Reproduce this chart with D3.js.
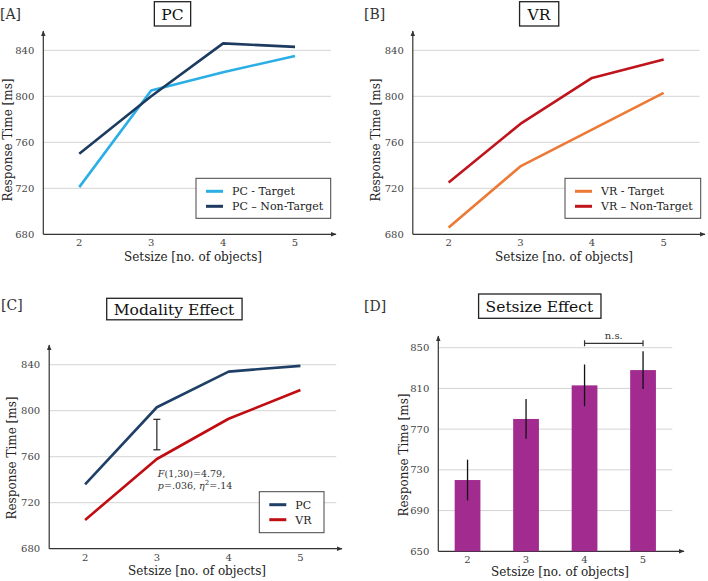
<!DOCTYPE html>
<html>
<head>
<meta charset="utf-8">
<script src="https://cdn.jsdelivr.net/npm/d3@7"></script>
<style>
  body { margin: 0; background: #fff; }
  svg { display: block; font-family: "DejaVu Serif", serif; }
</style>
</head>
<body>
<svg id="chart" width="708" height="581"></svg>
<script>
// --- data ---
const setsizes = [2, 3, 4, 5];
const rtTicks = [680, 720, 760, 800, 840];
const barTicks = [650, 690, 730, 770, 810, 850];

const pcTarget = [721, 805, 821, 835];
const pcNonTarget = [750, 800, 846, 843];
const vrTarget = [686, 739, 771, 803];
const vrNonTarget = [725, 776, 816, 832];
const pcMean = [736, 803, 834, 839];
const vrMean = [705, 758, 793, 818];

const setsizeMean = [720, 780, 813, 828];
const setsizeErr = [20, 19.5, 20.5, 18.5];

const modalityInterval = [766, 792.5]; // bracket at setsize 3
const nsPair = [4, 5];

const svg = d3.select('#chart');

// arrow marker for axes
svg.append('defs').append('marker')
  .attr('id', 'arrow')
  .attr('viewBox', '0 0 10 10')
  .attr('refX', 9).attr('refY', 5)
  .attr('markerWidth', 5).attr('markerHeight', 5)
  .attr('orient', 'auto')
  .append('path')
  .attr('d', 'M0,1 L10,5 L0,9 z')
  .style('fill', '#333');

function axesFrame(g, p) {
  // p: left, bottom, top, right, yScale, ticks, gridRight
  g.selectAll('.grid').data(p.ticks.slice(1)).join('line')
    .attr('class', 'grid')
    .attr('x1', p.left).attr('x2', p.gridRight)
    .attr('y1', d => p.y(d)).attr('y2', d => p.y(d))
    .style('stroke', '#d4d4d4').style('stroke-width', 1);

  g.selectAll('.ytick').data(p.ticks).join('text')
    .attr('class', 'ytick')
    .attr('x', p.left - 9).attr('y', d => p.y(d))
    .attr('dy', '0.35em')
    .attr('text-anchor', 'end')
    .style('font-size', '10px').style('fill', '#444')
    .text(d => d);

  g.append('line')
    .attr('x1', p.left).attr('x2', p.right)
    .attr('y1', p.bottom).attr('y2', p.bottom)
    .style('stroke', '#333').style('stroke-width', 1.2)
    .attr('marker-end', 'url(#arrow)');
  g.append('line')
    .attr('x1', p.left).attr('x2', p.left)
    .attr('y1', p.bottom).attr('y2', p.top)
    .style('stroke', '#333').style('stroke-width', 1.2)
    .attr('marker-end', 'url(#arrow)');
}

function labels(g, p) {
  g.append('text')
    .attr('x', p.tagX).attr('y', p.tagY)
    .style('font-size', '14px').style('fill', '#333')
    .text(p.tag);

  const t = g.append('text')
    .attr('x', p.titleX).attr('y', p.titleY)
    .attr('text-anchor', 'middle')
    .style('font-size', '15.5px').style('fill', '#111')
    .text(p.title);
  const bb = t.node().getBBox();
  g.insert('rect', 'text')
    .attr('x', bb.x - 7).attr('y', p.boxTop)
    .attr('width', bb.width + 14).attr('height', p.boxH)
    .style('fill', '#fff').style('stroke', '#222').style('stroke-width', 1.3);

  g.append('text')
    .attr('transform', `translate(${p.yLabX},${p.yLabY}) rotate(-90)`)
    .attr('text-anchor', 'middle').attr('dy', '0.35em')
    .style('font-size', '12px').style('fill', '#222')
    .text('Response Time [ms]');

  g.append('text')
    .attr('x', p.xLabX).attr('y', p.xLabY)
    .attr('text-anchor', 'middle')
    .style('font-size', '12px').style('fill', '#222')
    .text('Setsize [no. of objects]');
}

function legend(g, x0, y0, w, h, items) {
  g.append('rect')
    .attr('x', x0).attr('y', y0).attr('width', w).attr('height', h)
    .style('fill', '#fff').style('stroke', '#444').style('stroke-width', 1);
  items.forEach((it, i) => {
    const yy = y0 + 13 + i * 15;
    g.append('line')
      .attr('x1', x0 + 10).attr('x2', x0 + 27)
      .attr('y1', yy).attr('y2', yy)
      .style('stroke', it.color).style('stroke-width', 3);
    g.append('text')
      .attr('x', x0 + 36).attr('y', yy).attr('dy', '0.35em')
      .style('font-size', '11px').style('fill', '#222')
      .text(it.label);
  });
}

function linePanel(p) {
  const g = svg.append('g');
  const x = d3.scaleLinear().domain([1.5, 5.5]).range([p.left, p.gridRight]);
  const y = d3.scaleLinear().domain([680, 840]).range([p.bottom, p.y840]);
  axesFrame(g, { ...p, y, ticks: rtTicks });

  g.selectAll('.xtick').data(setsizes).join('text')
    .attr('x', d => x(d)).attr('y', p.bottom + 12)
    .attr('text-anchor', 'middle')
    .style('font-size', '10px').style('fill', '#444')
    .text(d => d);

  const line = d3.line().x((d, i) => x(setsizes[i])).y(d => y(d));
  p.series.forEach(s => {
    g.append('path')
      .datum(s.values)
      .attr('d', line)
      .style('fill', 'none').style('stroke', s.color)
      .style('stroke-width', 2.6).style('stroke-linejoin', 'round');
  });
  labels(g, p);
  legend(g, p.legX, p.legY, p.legW, p.legH, p.series);
  return { g, x, y };
}

const cLightBlue = '#2aaee6', cNavy = '#1d3a5f';
const cOrange = '#ec7a36', cRed = '#c0141c';
const cPC = '#1f3f66', cVR = '#c00d12';

// [A]
linePanel({
  left: 43.3, gridRight: 331, right: 336, bottom: 234.3, y840: 50.3, top: 31,
  series: [
    { label: 'PC - Target', color: cLightBlue, values: pcTarget },
    { label: 'PC \u2013 Non-Target', color: cNavy, values: pcNonTarget }
  ],
  tag: '[A]', tagX: 0, tagY: 19,
  title: 'PC', titleX: 172.5, titleY: 20, boxTop: 1.7, boxH: 24.3,
  yLabX: 8, yLabY: 140, xLabX: 193, xLabY: 261,
  legX: 196, legY: 178.3, legW: 134.7, legH: 40
});

// [B]
linePanel({
  left: 412.8, gridRight: 699.5, right: 705, bottom: 234.3, y840: 50.3, top: 31,
  series: [
    { label: 'VR - Target', color: cOrange, values: vrTarget },
    { label: 'VR \u2013 Non-Target', color: cRed, values: vrNonTarget }
  ],
  tag: '[B]', tagX: 364, tagY: 19,
  title: 'VR', titleX: 539, titleY: 20, boxTop: 1.7, boxH: 24.3,
  yLabX: 376, yLabY: 140, xLabX: 564, xLabY: 261,
  legX: 565, legY: 178.3, legW: 135.7, legH: 40
});

// [C]
const pc = linePanel({
  left: 49.2, gridRight: 336.3, right: 342, bottom: 548.7, y840: 364.7, top: 345,
  series: [
    { label: 'PC', color: cPC, values: pcMean },
    { label: 'VR', color: cVR, values: vrMean }
  ],
  tag: '[C]', tagX: 1, tagY: 310,
  title: 'Modality Effect', titleX: 174, titleY: 314.5, boxTop: 298.3, boxH: 21.5,
  yLabX: 12, yLabY: 458, xLabX: 197, xLabY: 575,
  legX: 259.3, legY: 491.7, legW: 64.7, legH: 41
});

// modality bracket + stats
(function () {
  const { g, x, y } = pc;
  const bx = x(3);
  g.append('line')
    .attr('x1', bx).attr('x2', bx)
    .attr('y1', y(modalityInterval[0])).attr('y2', y(modalityInterval[1]))
    .style('stroke', '#222').style('stroke-width', 1.2);
  modalityInterval.forEach(v => {
    g.append('line')
      .attr('x1', bx - 3.5).attr('x2', bx + 3.5)
      .attr('y1', y(v)).attr('y2', y(v))
      .style('stroke', '#222').style('stroke-width', 1.2);
  });
  const t1 = g.append('text').attr('x', bx + 1).attr('y', 476.5)
    .style('font-size', '9.5px').style('fill', '#333');
  t1.append('tspan').style('font-style', 'italic').text('F');
  t1.append('tspan').text('(1,30)=4.79,');
  const t2 = g.append('text').attr('x', bx + 1).attr('y', 488.5)
    .style('font-size', '9.5px').style('fill', '#333');
  t2.append('tspan').style('font-style', 'italic').text('p');
  t2.append('tspan').text('=.036, ');
  t2.append('tspan').style('font-style', 'italic').text('\u03b7');
  t2.append('tspan').attr('dy', -4).style('font-size', '7px').text('2');
  t2.append('tspan').attr('dy', 4).text('=.14');
})();

// [D]
(function () {
  const g = svg.append('g');
  const p = {
    left: 438.3, gridRight: 672.3, right: 684, bottom: 551.3, top: 336,
    tag: '[D]', tagX: 364, tagY: 310.5,
    title: 'Setsize Effect', titleX: 539.4, titleY: 312, boxTop: 294, boxH: 24.3,
    yLabX: 404, yLabY: 455, xLabX: 560, xLabY: 576
  };
  const x = d3.scaleBand().domain(setsizes).range([p.left, p.gridRight]).paddingInner(0.56).paddingOuter(0.28);
  const y = d3.scaleLinear().domain([650, 850]).range([p.bottom, 347.7]);
  axesFrame(g, { ...p, y, ticks: barTicks });

  g.selectAll('.bar').data(setsizeMean).join('rect')
    .attr('x', (d, i) => x(setsizes[i]))
    .attr('width', x.bandwidth())
    .attr('y', d => y(d))
    .attr('height', d => p.bottom - y(d))
    .style('fill', '#a12b8f');

  g.selectAll('.err').data(setsizeMean).join('line')
    .attr('x1', (d, i) => x(setsizes[i]) + x.bandwidth() / 2)
    .attr('x2', (d, i) => x(setsizes[i]) + x.bandwidth() / 2)
    .attr('y1', (d, i) => y(d - setsizeErr[i]))
    .attr('y2', (d, i) => y(d + setsizeErr[i]))
    .style('stroke', '#111').style('stroke-width', 1.3);

  g.selectAll('.xtick').data(setsizes).join('text')
    .attr('x', d => x(d) + x.bandwidth() / 2).attr('y', p.bottom + 12)
    .attr('text-anchor', 'middle')
    .style('font-size', '10px').style('fill', '#444')
    .text(d => d);

  // n.s. bracket
  const nx1 = x(nsPair[0]) + x.bandwidth() / 2;
  const nx2 = x(nsPair[1]) + x.bandwidth() / 2;
  const ny = 343.3;
  g.append('path')
    .attr('d', `M${nx1},${ny - 3}V${ny + 3}M${nx1},${ny}H${nx2}M${nx2},${ny - 3}V${ny + 3}`)
    .style('fill', 'none').style('stroke', '#333').style('stroke-width', 1.2);
  g.append('text')
    .attr('x', (nx1 + nx2) / 2).attr('y', ny - 4)
    .attr('text-anchor', 'middle')
    .style('font-size', '10px').style('fill', '#333')
    .text('n.s.');

  labels(g, p);
})();
</script>
</body>
</html>
